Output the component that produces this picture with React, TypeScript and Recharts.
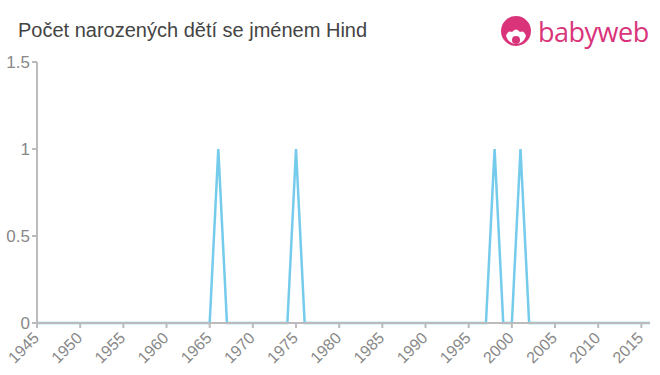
import React from "react";
import { LineChart, Line, XAxis, YAxis } from "recharts";

const years = [
  1945, 1946, 1947, 1948, 1949, 1950, 1951, 1952, 1953, 1954,
  1955, 1956, 1957, 1958, 1959, 1960, 1961, 1962, 1963, 1964,
  1965, 1966, 1967, 1968, 1969, 1970, 1971, 1972, 1973, 1974,
  1975, 1976, 1977, 1978, 1979, 1980, 1981, 1982, 1983, 1984,
  1985, 1986, 1987, 1988, 1989, 1990, 1991, 1992, 1993, 1994,
  1995, 1996, 1997, 1998, 1999, 2000, 2001, 2002, 2003, 2004,
  2005, 2006, 2007, 2008, 2009, 2010, 2011, 2012, 2013, 2014,
  2015, 2016,
];

const births = [
  0, 0, 0, 0, 0, 0, 0, 0, 0, 0,
  0, 0, 0, 0, 0, 0, 0, 0, 0, 0,
  0, 1, 0, 0, 0, 0, 0, 0, 0, 0,
  1, 0, 0, 0, 0, 0, 0, 0, 0, 0,
  0, 0, 0, 0, 0, 0, 0, 0, 0, 0,
  0, 0, 0, 1, 0, 0, 1, 0, 0, 0,
  0, 0, 0, 0, 0, 0, 0, 0, 0, 0,
  0, 0,
];

const xTicks = [1945, 1950, 1955, 1960, 1965, 1970, 1975, 1980, 1985, 1990, 1995, 2000, 2005, 2010, 2015];
const yTicks = [0, 0.5, 1, 1.5];

const data = years.map((year, i) => ({ year, count: births[i] }));

const font = "'Liberation Sans', Arial, Helvetica, sans-serif";
const axisColor = "#bbbbbb";
const pink = "#d9347a";

const Logo = () => (
  <div style={{ position: "absolute", left: 500, top: 16, display: "flex", alignItems: "center" }}>
    <svg width={32} height={32} viewBox="0 0 32 32">
      <circle cx={16} cy={15} r={15} fill={pink} />
      <path d="M6 20 Q8 14 12 16 Q16 11 20 16 Q24 14 26 20 Q23 28 16 28 Q9 28 6 20 Z" fill="#fff" />
      <circle cx={16} cy={24} r={4} fill={pink} />
    </svg>
    <span
      style={{
        marginLeft: 6,
        color: pink,
        fontFamily: "'Open Sans', 'Noto Sans', sans-serif",
        fontSize: 27,
        fontWeight: 500,
        letterSpacing: -0.5,
        lineHeight: "32px",
      }}
    >
      babyweb
    </span>
  </div>
);

export default function App() {
  return (
    <div style={{ position: "absolute", left: 0, top: 0, width: 660, height: 375, background: "#fff" }}>
      <div
        style={{
          position: "absolute",
          left: 18,
          top: 19,
          fontFamily: font,
          fontSize: 20,
          color: "#444444",
          whiteSpace: "nowrap",
        }}
      >
        Počet narozených dětí se jménem Hind
      </div>
      <Logo />
      <LineChart
        width={660}
        height={375}
        data={data}
        margin={{ top: 62, right: 10, bottom: 0, left: 0 }}
      >
        <XAxis
          dataKey="year"
          type="number"
          domain={[1945, 2016]}
          ticks={xTicks}
          interval={0}
          height={52}
          stroke={axisColor}
          strokeWidth={2}
          tickSize={5}
          angle={-45}
          textAnchor="end"
          dx={-5}
          dy={1}
          tick={{ fill: "#888888", fontSize: 16, fontFamily: font }}
        />
        <YAxis
          type="number"
          domain={[0, 1.5]}
          ticks={yTicks}
          width={37}
          stroke={axisColor}
          strokeWidth={2}
          tickSize={5}
          tick={{ fill: "#888888", fontSize: 17, fontFamily: font }}
        />
        <Line
          type="linear"
          dataKey="count"
          stroke="#74cbec"
          strokeWidth={2.5}
          dot={false}
          isAnimationActive={false}
        />
      </LineChart>
    </div>
  );
}
